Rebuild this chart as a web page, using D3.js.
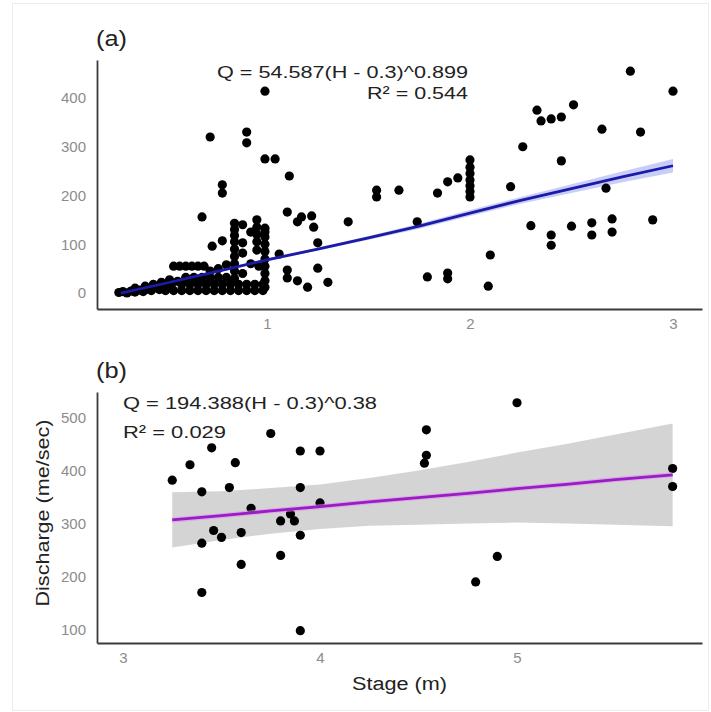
<!DOCTYPE html>
<html>
<head>
<meta charset="utf-8">
<script src="https://cdn.jsdelivr.net/npm/d3@7"></script>
<style>
  html, body { margin: 0; padding: 0; background: #fff; }
  svg { display: block; }
  text { font-family: "Liberation Sans", Arial, sans-serif; }
</style>
</head>
<body>
<svg id="chart" width="711" height="712"></svg>
<script>
// ---------- Panel (a) data ----------
const stageA = [
  0.27,0.29,0.31,0.33,0.35,0.37,0.39,0.41,0.43,0.45,0.47,0.49,0.51,0.53,0.35,0.40,0.44,0.48,0.52,0.56,0.60,
  0.50,0.54,0.58,0.62,0.66,0.70,0.74,0.78,0.82,0.86,0.90,0.94,0.98,
  0.58,0.62,0.66,0.70,0.74,0.78,0.82,0.86,0.90,0.94,0.98,
  0.60,0.64,0.68,0.72,0.76,0.80,
  0.54,0.57,0.60,0.63,0.66,0.69,
  0.72,0.76,0.80,0.88,0.92,0.96,
  0.84,0.84,0.84,0.84,0.84,0.84,0.84,0.84,0.84,
  0.99,0.99,0.99,0.99,0.99,0.99,0.99,0.99,0.99,0.99,
  0.95,0.95,0.95,0.95,0.95,
  0.88,0.92,0.88,0.88,
  0.73,0.78,0.68,0.78,0.78,0.72,0.90,0.90,0.99,0.99,1.04,1.11,
  1.06,1.10,1.10,1.15,1.20,1.25,1.30,
  1.10,1.15,1.17,1.22,1.23,1.25,1.40,
  1.54,1.54,1.65,1.74,1.79,1.89,1.89,1.84,1.89,1.94,
  2.00,2.00,2.00,2.00,2.00,2.00,2.00,
  2.09,2.10,2.20,2.26,2.30,2.33,2.35,2.40,2.45,2.51,2.45,2.40,2.40,2.50,2.60,2.60,2.65,2.67,2.70,2.70,2.79,2.84,2.90,3.00
];
const dischargeA = [
  1,3,0,4,2,6,3,8,5,11,7,14,10,18,10,14,18,22,27,24,30,
  5,5,5,5,5,5,5,5,5,5,5,5,5,
  18,18,18,18,18,18,18,18,18,18,18,
  32,32,32,32,32,32,
  55,55,55,55,55,55,
  45,50,58,40,60,55,
  30,45,60,75,90,105,118,130,143,
  12,25,40,55,70,85,100,115,125,133,
  88,105,120,135,150,
  140,125,103,82,
  96,107,156,205,222,320,308,330,414,275,275,240,
  80,47,31,25,12,51,22,
  166,146,156,158,135,103,146,
  197,211,211,146,33,41,29,205,228,236,
  197,208,220,232,245,258,273,
  14,78,218,300,138,375,353,357,361,386,271,119,98,137,144,119,336,215,152,125,455,330,150,414
];
// fitted curve and confidence band
const fitStageA = [0.28,0.5,0.75,1.0,1.25,1.5,1.75,2.0,2.25,2.5,2.75,3.0];
const fitQA     = [0,20,44,68,90,113,137,164,190,214,238,261];
const fitLoA    = [-4,17,41,65,87,109,132,158,183,205,227,247];
const fitHiA    = [4,23,47,71,93,117,142,170,197,223,249,275];

// ---------- Panel (b) data ----------
const stageB = [3.25,3.34,3.45,3.40,3.57,3.54,3.46,3.40,3.50,3.60,3.60,3.40,3.65,3.75,3.90,4.00,3.90,3.80,3.85,3.87,4.00,3.90,3.80,3.90,
  5.00,4.54,4.54,4.53,5.79,5.79,4.90,4.79];
const dischargeB = [382,411,443,360,415,368,287,263,274,283,223,170,329,470,437,437,368,305,318,305,339,278,240,98,
  528,477,429,414,404,370,238,190];
const fitStageB = [3.25,3.5,3.75,4.0,4.25,4.5,4.75,5.0,5.25,5.5,5.79];
const fitQB     = [307,315,324,332,341,349,357,366,374,383,392];
const fitLoB    = [255,269,281,290,296,298,300,302,300,298,295];
const fitHiB    = [359,361,367,374,386,400,416,434,450,468,489];

// ---------- text ----------
const ticksA_x = [1,2,3], ticksA_y = [0,100,200,300,400];
const ticksB_x = [3,4,5], ticksB_y = [100,200,300,400,500];
const eqA = "Q = 54.587(H - 0.3)^0.899", r2A = "R² = 0.544";
const eqB = "Q = 194.388(H - 0.3)^0.38", r2B = "R² = 0.029";
const xTitle = "Stage (m)", yTitle = "Discharge (me/sec)";

const svg = d3.select("#chart");

// outer faint frame
svg.append("rect").attr("x", 12.5).attr("y", 3.5).attr("width", 696).attr("height", 707)
  .attr("fill", "none").attr("stroke", "#ececec").attr("stroke-width", 1);

function panel(opts) {
  const g = svg.append("g");
  const x = d3.scaleLinear().domain(opts.xDom).range([97, 702]);
  const y = d3.scaleLinear().domain(opts.yDom).range([opts.bottom, opts.top]);

  // band
  const area = d3.area()
    .x((d, i) => x(opts.fs[i]))
    .y0((d, i) => y(opts.lo[i]))
    .y1((d, i) => y(opts.hi[i]));
  g.append("path").datum(opts.fs).attr("d", area)
    .attr("fill", opts.bandColor).attr("opacity", opts.bandOpacity);

  // points
  g.selectAll("circle.pt").data(opts.xs).join("circle")
    .attr("class", "pt")
    .attr("cx", (d) => x(d))
    .attr("cy", (d, i) => y(opts.ys[i]))
    .attr("r", 4.6).attr("fill", "#000");

  // fitted line
  const line = d3.line().x((d, i) => x(opts.fs[i])).y((d, i) => y(opts.fq[i]));
  if (opts.halo) {
    g.append("path").datum(opts.fs).attr("d", line).attr("fill", "none")
      .attr("stroke", opts.halo).attr("stroke-width", 5).attr("opacity", 0.6);
  }
  g.append("path").datum(opts.fs).attr("d", line).attr("fill", "none")
    .attr("stroke", opts.lineColor).attr("stroke-width", 2.8);

  // axes
  const ax = g.append("g").attr("transform", `translate(0,${opts.bottom})`)
    .call(d3.axisBottom(x).tickValues(opts.tx).tickSize(0).tickPadding(9).tickFormat(d3.format("d")));
  const ay = g.append("g").attr("transform", "translate(97,0)")
    .call(d3.axisLeft(y).tickValues(opts.ty).tickSize(0).tickPadding(11).tickFormat(d3.format("d")));
  [ax, ay].forEach(a => {
    a.select(".domain").attr("stroke", "#3a3a3a").attr("stroke-width", 1.8);
    a.selectAll("text").attr("fill", "#8c8c8c").style("font-size", "15px")
      .style("font-family", "'Liberation Sans', Arial, sans-serif");
  });

  // panel label
  g.append("text").attr("x", 96).attr("y", opts.top - 14).text(opts.label)
    .attr("textLength", 31).attr("lengthAdjust", "spacingAndGlyphs")
    .style("font-size", "22px").attr("fill", "#222");

  return { g, x, y };
}

const pa = panel({
  xDom: [0.1626, 3.1429], yDom: [-32.8, 477.9], top: 60, bottom: 309,
  xs: stageA, ys: dischargeA, fs: fitStageA, fq: fitQA, lo: fitLoA, hi: fitHiA,
  bandColor: "#9aa6f0", bandOpacity: 0.55, lineColor: "#1c1aa8", halo: null,
  tx: ticksA_x, ty: ticksA_y, label: "(a)"
});
pa.g.append("text").attr("x", 217).attr("y", 78).text(eqA)
  .attr("textLength", 251).attr("lengthAdjust", "spacingAndGlyphs")
  .style("font-size", "17px").attr("fill", "#222");
pa.g.append("text").attr("x", 367).attr("y", 99).text(r2A)
  .attr("textLength", 101).attr("lengthAdjust", "spacingAndGlyphs")
  .style("font-size", "17px").attr("fill", "#222");

const pb = panel({
  xDom: [2.868, 5.939], yDom: [74.7, 548.3], top: 392, bottom: 643,
  xs: stageB, ys: dischargeB, fs: fitStageB, fq: fitQB, lo: fitLoB, hi: fitHiB,
  bandColor: "#cfcfcf", bandOpacity: 0.9, lineColor: "#9a1cc4", halo: "#e08cf0",
  tx: ticksB_x, ty: ticksB_y, label: "(b)"
});
pb.g.append("text").attr("x", 123).attr("y", 409).text(eqB)
  .attr("textLength", 254).attr("lengthAdjust", "spacingAndGlyphs")
  .style("font-size", "17px").attr("fill", "#222");
pb.g.append("text").attr("x", 123).attr("y", 438).text(r2B)
  .attr("textLength", 103).attr("lengthAdjust", "spacingAndGlyphs")
  .style("font-size", "17px").attr("fill", "#222");

// axis titles
svg.append("text").attr("x", 352).attr("y", 690).text(xTitle)
  .attr("textLength", 95).attr("lengthAdjust", "spacingAndGlyphs")
  .style("font-size", "18px").attr("fill", "#222");
svg.append("text").attr("transform", "translate(49,513) rotate(-90)").attr("text-anchor", "middle")
  .text(yTitle).attr("textLength", 187).attr("lengthAdjust", "spacingAndGlyphs")
  .style("font-size", "18px").attr("fill", "#222");
</script>
</body>
</html>
